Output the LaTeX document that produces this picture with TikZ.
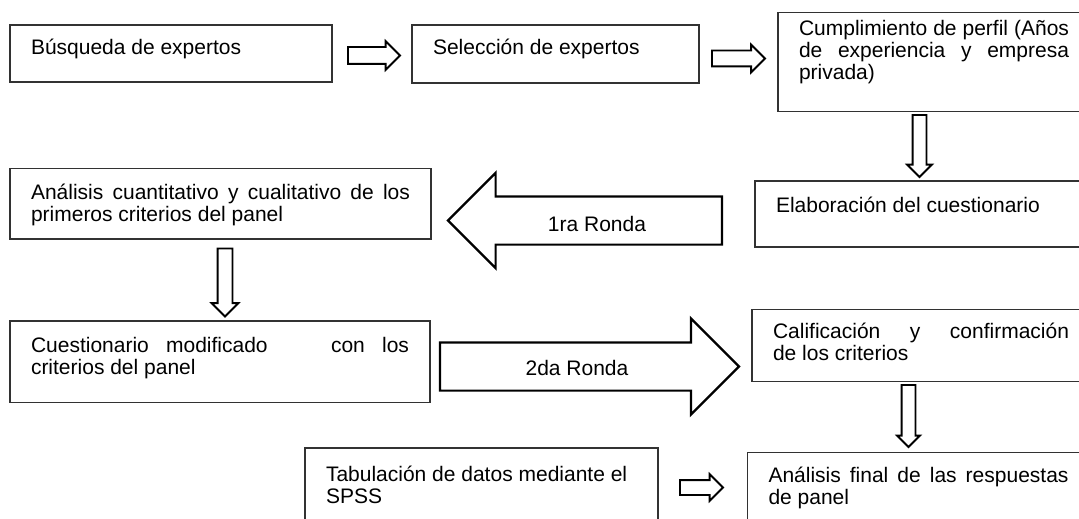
\documentclass[tikz,border=0pt]{standalone}
\usepackage{fontspec}
\setmainfont{Liberation Sans}
\usepackage{tikz}
\usetikzlibrary{shapes,shapes.arrows,positioning}
\definecolor{borde}{RGB}{50,50,50}
\tikzstyle{etapa} = [draw=borde, line width=1.1pt, rectangle, anchor=north west, inner xsep=21pt, inner ysep=0pt, outer sep=0pt, align=justify, text height=31pt, font=\fontsize{21pt}{22pt}\selectfont]
\tikzstyle{flecha} = [draw=black, line width=1.9pt, single arrow, anchor=tail, inner xsep=0pt, outer sep=0pt]
\tikzstyle{ronda} = [font=\fontsize{21pt}{22pt}\selectfont]

\begin{document}
\begin{tikzpicture}[x=1pt, y=-1pt]
\useasboundingbox (0,0) rectangle (1079,519);
\clip (0,0) rectangle (1079,519);

% Etapas
\node[etapa, text width=280pt, text height=30pt, text depth=27pt] (busqueda) at (10,25) {Búsqueda de expertos};
\node[etapa, text width=245pt, text height=30pt, text depth=28pt] (seleccion) at (412,25) {Selección de expertos};
\node[etapa, text width=270pt, text height=22.5pt, text depth=76pt] (perfil) at (778,12.7) {Cumplimiento de perfil (Años\linebreak de experiencia y empresa\linebreak privada)};
\node[etapa, text width=300pt, text depth=35pt] (elaboracion) at (755,181) {Elaboración del cuestionario};
\node[etapa, text width=379pt, text depth=39.7pt] (analisis) at (10,168.3) {Análisis cuantitativo y cualitativo de los\linebreak primeros criterios del panel};
\node[etapa, text width=378pt, text depth=50.7pt] (modificado) at (10,321) {Cuestionario modificado\hspace{46pt} con los\linebreak criterios del panel};
\node[etapa, text width=296pt, text height=29.5pt, text depth=43pt] (calificacion) at (752,309.3) {Calificación y confirmación\linebreak de los criterios};
\node[etapa, text width=311pt, text height=33pt, text depth=100pt] (tabulacion) at (305,448) {Tabulación de datos mediante el\newline SPSS};
\node[etapa, text width=300pt, text height=30pt, text depth=100pt] (final) at (747.5,452.5) {Análisis final de las respuestas\linebreak de panel};

% Flechas pequeñas
\node[flecha, minimum height=52pt, inner ysep=7.5pt, single arrow head extend=6pt] (f1) at (348,55.5) {};
\node[flecha, minimum height=53pt, inner ysep=7pt, single arrow head extend=6pt] (f2) at (712,58.5) {};
\node[flecha, rotate=-90, minimum height=62pt, inner ysep=6pt, single arrow head extend=5.5pt] (f3) at (919.5,115) {};
\node[flecha, rotate=-90, minimum height=68pt, inner ysep=6.5pt, single arrow head extend=6pt] (f4) at (225,248.5) {};
\node[flecha, rotate=-90, minimum height=62pt, inner ysep=6pt, single arrow head extend=4.5pt] (f5) at (908.5,385) {};
\node[flecha, minimum height=43pt, inner ysep=6.5pt, single arrow head extend=6pt] (f6) at (680,487.5) {};

% Rondas
\node[flecha, line width=2.2pt, rotate=180, minimum height=274pt, inner ysep=23pt, single arrow head extend=23.5pt] (r1) at (722,220.5) {};
\node[ronda] (t1) at (597,224) {1ra Ronda};
\node[flecha, line width=2.2pt, minimum height=299pt, inner ysep=23pt, single arrow head extend=24pt] (r2) at (440,366.5) {};
\node[ronda] (t2) at (577,367.5) {2da Ronda};
\end{tikzpicture}
\end{document}
